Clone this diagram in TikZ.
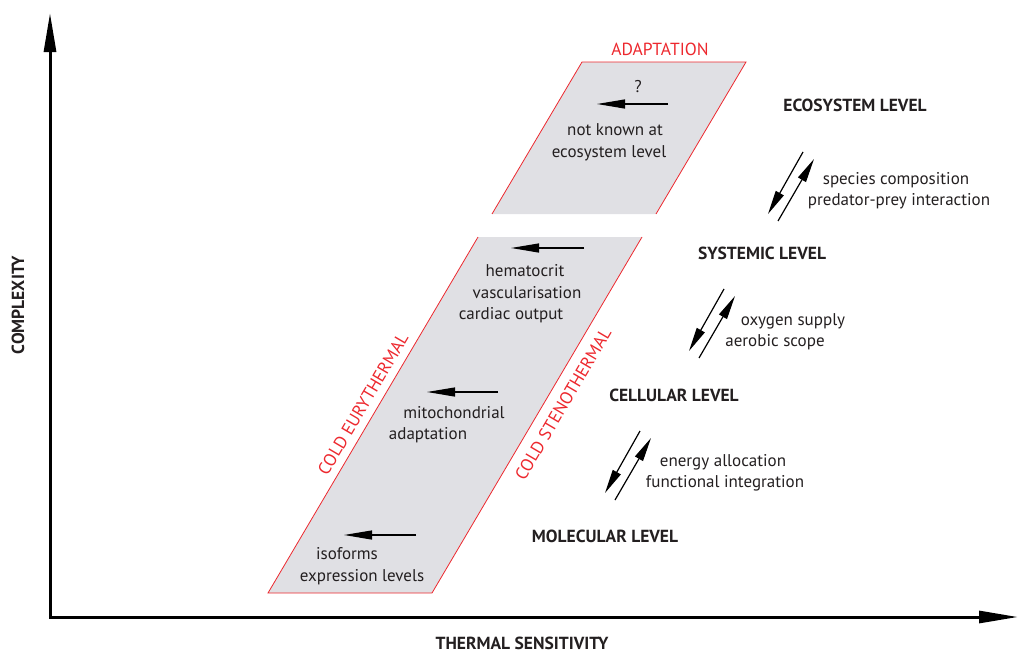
\documentclass[tikz,border=0pt]{standalone}
\usepackage{fontspec}
\setmainfont{PT Sans}
\usetikzlibrary{arrows.meta}
\definecolor{adred}{RGB}{237,40,46}
\definecolor{bandgray}{RGB}{224,224,228}
\definecolor{ink}{RGB}{35,31,32}
\tikzset{
  axis/.style={line width=3pt, {Triangle[length=39pt,width=12pt]}-{Triangle[length=39pt,width=12pt]}},
  shiftarrow/.style={line width=1.2pt, -{Triangle[length=28pt,width=9pt]}},
  pairarrow/.style={line width=1.2pt, -{Triangle[length=24pt,width=9pt]}},
  txt/.style={text=ink, anchor=base, inner sep=0pt, font=\fontsize{17}{20}\selectfont},
  lvl/.style={text=ink, anchor=base, inner sep=0pt, font=\bfseries\fontsize{17.5}{20}\selectfont},
  redtxt/.style={text=adred, inner sep=0pt, font=\fontsize{17.5}{20}\selectfont},
}
\begin{document}
\begin{tikzpicture}[x=1pt,y=-1pt]
\useasboundingbox (0,0) rectangle (1019,653);
% axes
\coordinate (ytop) at (50,13);
\coordinate (origin) at (50,617);
\coordinate (xend) at (1018,617);
\draw[axis] (ytop) -- (origin) -- (xend);
\node[lvl, anchor=center, rotate=90] (complexity) at (18,305) {COMPLEXITY};
\node[lvl] (thermal) at (522,649) {THERMAL SENSITIVITY};
% adaptation bands
\fill[bandgray] (268,593) -- (432,593) -- (642,237) -- (478,237) -- cycle;
\draw[adred, line width=0.8pt] (478,237) -- (268,593) -- (432,593) -- (642,237);
\fill[bandgray] (582,62) -- (746,62) -- (656,214) -- (492,214) -- cycle;
\draw[adred, line width=0.8pt] (492,214) -- (582,62) -- (746,62) -- (656,214);
\node[redtxt] (adapt) at (660,49) {ADAPTATION};
\node[redtxt, rotate=59.5] (eury) at (363,404) {COLD EURYTHERMAL};
\node[redtxt, rotate=59.5] (steno) at (563,404) {COLD STENOTHERMAL};
% arrows inside the bands
\foreach \n/\xa/\xb/\y in {eco/668/597/104, sys/584/511/248, cel/498/427/392, mol/416/344/535}
{
\coordinate (\n a) at (\xa,\y);
\coordinate (\n b) at (\xb,\y);
\draw[shiftarrow] (\n a) -- (\n b);
}
\node[txt] (qmark) at (638,92) {?};
\foreach \t/\x/\y [count=\i] in {not known at/615/135, ecosystem level/609/157,
  hematocrit/525/276, vascularisation/527/298, cardiac output/511/319,
  mitochondrial/454/418, adaptation/428/439, isoforms/347/559, expression levels/362/581}
{
\node[txt] (band\i) at (\x,\y) {\t};
}
% levels
\node[lvl] (ecosys) at (855,111) {ECOSYSTEM LEVEL};
\node[lvl] (systemic) at (762,259) {SYSTEMIC LEVEL};
\node[lvl] (cellular) at (674,401) {CELLULAR LEVEL};
\node[lvl] (molecular) at (605,542) {MOLECULAR LEVEL};
% arrow pairs between levels
\foreach \x/\y [count=\i] in {803/152, 724/289, 640/431}
{
\coordinate (down\i) at (\x,\y);
\coordinate (downend\i) at (\x-35,\y+62);
\coordinate (up\i) at (\x-25,\y+69);
\coordinate (upend\i) at (\x+11,\y+7);
\draw[pairarrow] (down\i) -- (downend\i);
\draw[pairarrow] (up\i) -- (upend\i);
}
\foreach \t/\x/\y [count=\i] in {species composition/896/184, predator-prey interaction/899/205,
  oxygen supply/793/325, aerobic scope/775/346,
  energy allocation/723/466, functional integration/725/487}
{
\node[txt] (link\i) at (\x,\y) {\t};
}
\end{tikzpicture}
\end{document}
